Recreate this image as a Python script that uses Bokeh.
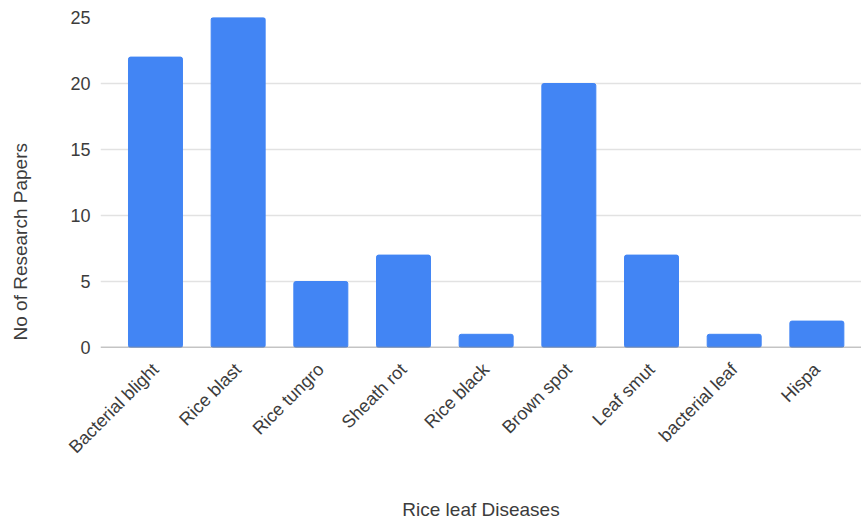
from math import pi
from bokeh.plotting import figure
from bokeh.models import Range1d, FixedTicker, Span, Title
from bokeh.embed import file_html
from bokeh.resources import INLINE

diseases = ["Bacterial blight", "Rice blast", "Rice tungro", "Sheath rot", "Rice black",
            "Brown spot", "Leaf smut", "bacterial leaf", "Hispa"]
papers = [22, 25, 5, 7, 1, 20, 7, 1, 2]
y_ticks = [0, 5, 10, 15, 20, 25]
x_title = "Rice leaf Diseases"
y_title = "No of Research Papers"

FONT = "Liberation Sans"
TXT = "#3c3c3c"
positions = list(range(len(diseases)))

p = figure(width=861, height=524, output_backend="svg", toolbar_location=None,
           x_range=Range1d(-0.665, 8.54), y_range=Range1d(0, 25),
           min_border_left=100, min_border_right=0, min_border_top=17, min_border_bottom=177)
p.outline_line_color = None
p.background_fill_color = "white"
p.border_fill_color = "white"

p.vbar(x=positions, top=papers, width=0.653, fill_color="#4285f4", line_color="#4285f4",
       border_radius=2)

# x axis
p.xaxis.ticker = FixedTicker(ticks=positions)
p.xaxis.major_label_overrides = {i: n for i, n in enumerate(diseases)}
p.xaxis.major_label_orientation = pi / 4
p.xaxis.axis_line_color = None
p.xaxis.major_tick_line_color = None
p.xaxis.minor_tick_line_color = None
p.xaxis.major_tick_out = 0
p.xaxis.major_label_standoff = 19
p.xaxis.major_label_text_font = FONT
p.xaxis.major_label_text_font_size = "18px"
p.xaxis.major_label_text_color = TXT
p.xaxis.axis_label = x_title
p.xaxis.axis_label_standoff = 32
p.xaxis.axis_label_text_font = FONT
p.xaxis.axis_label_text_font_size = "19px"
p.xaxis.axis_label_text_font_style = "normal"
p.xaxis.axis_label_text_color = TXT
p.xgrid.grid_line_color = None

# y axis
p.yaxis.ticker = FixedTicker(ticks=y_ticks)
p.yaxis.axis_line_color = None
p.yaxis.major_tick_line_color = None
p.yaxis.minor_tick_line_color = None
p.yaxis.major_tick_out = 0
p.yaxis.major_label_standoff = 10
p.yaxis.major_label_text_font = FONT
p.yaxis.major_label_text_font_size = "18px"
p.yaxis.major_label_text_color = TXT
# blank axis label only reserves room so the title sits at the far left
p.yaxis.axis_label = " "
p.yaxis.axis_label_standoff = 6
p.yaxis.axis_label_text_font_size = "19px"
p.ygrid.grid_line_color = "#e2e2e2"
p.ygrid.grid_line_width = 1.5

p.add_layout(Span(location=0, dimension="width", line_color="#8a8a8a", line_width=1.5))

p.add_layout(Title(text=y_title, align="left", offset=7, standoff=14,
                   text_font=FONT, text_font_size="19px", text_font_style="normal",
                   text_color=TXT), "left")

open("out.html", "w").write(file_html(p, INLINE))
